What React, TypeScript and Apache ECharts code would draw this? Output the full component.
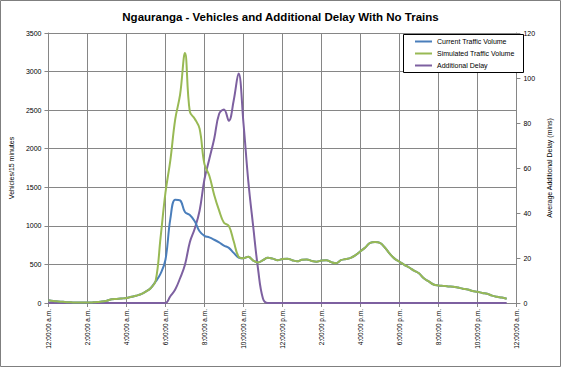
import React, { useEffect, useRef } from "react";
import * as echarts from "echarts";

// 15-minute intervals, 12:00 a.m. to 12:00 a.m. (97 category slots)
const hourLabels = ["12", "1", "2", "3", "4", "5", "6", "7", "8", "9", "10", "11"];
const quarterLabels = ["00", "15", "30", "45"];
const categories: string[] = [];
for (let h = 0; h <= 24; h++) {
  for (let q = 0; q < 4; q++) {
    if (h === 24 && q > 0) break;
    const suffix = h % 24 < 12 ? "a.m." : "p.m.";
    categories.push(`${hourLabels[h % 12]}:${quarterLabels[q]}:00 ${suffix}`);
  }
}

const currentTraffic = [
  35, 25, 20, 15, 10, 8, 6, 5, 5, 8, 12, 18, 30, 48, 52, 58, 65, 80, 95, 115,
  150, 195, 280, 380, 560, 1090, 1340, 1330, 1180, 1140, 1060, 930, 870, 850, 820, 785, 745, 715, 650, 590,
  580, 600, 550, 525, 555, 585, 575, 555, 570, 575, 555, 540, 560, 565, 545, 536, 550, 555, 530, 515,
  555, 570, 585, 620, 670, 720, 780, 790, 780, 720, 640, 575, 535, 495, 460, 420, 385, 320, 280, 240,
  228, 222, 215, 212, 200, 185, 175, 155, 145, 130, 120, 95, 80, 70, 55,
];

const simulatedTraffic = [
  35, 25, 20, 15, 10, 8, 6, 5, 5, 8, 12, 18, 30, 48, 52, 58, 65, 80, 95, 115,
  150, 195, 290, 850, 1430, 1850, 2380, 2700, 3240, 2480, 2390, 2260, 1800, 1650, 1400, 1200, 1040, 1000, 800, 600,
  580, 600, 550, 525, 555, 585, 575, 555, 570, 575, 555, 540, 560, 565, 545, 536, 550, 555, 530, 515,
  555, 570, 585, 620, 670, 720, 780, 790, 780, 720, 640, 575, 535, 495, 460, 420, 385, 320, 280, 240,
  228, 222, 215, 212, 200, 185, 175, 155, 145, 130, 120, 95, 80, 70, 55,
];

const additionalDelay = [
  0, 0, 0, 0, 0, 0, 0, 0, 0, 0, 0, 0, 0, 0, 0, 0, 0, 0, 0, 0,
  0, 0, 0, 0, 0, 3, 6, 11, 17, 27, 33, 41, 55, 64, 73, 84, 86, 81, 90, 102,
  80, 54, 34, 15, 2, 0, 0, 0, 0, 0, 0, 0, 0, 0, 0, 0, 0, 0, 0, 0,
  0, 0, 0, 0, 0, 0, 0, 0, 0, 0, 0, 0, 0, 0, 0, 0, 0, 0, 0, 0,
  0, 0, 0, 0, 0, 0, 0, 0, 0, 0, 0, 0, 0, 0, 0,
];

const leftTicks = { min: 0, max: 3500, interval: 500 };
const rightTicks = { min: 0, max: 120, interval: 20 };

const FONT = "Liberation Sans";
const GRID = "#868686";

export default function App() {
  const ref = useRef<HTMLDivElement>(null);
  useEffect(() => {
    if (!ref.current) return;
    const chart = echarts.init(ref.current, null, { renderer: "svg" });
    chart.setOption({
      animation: false,
      backgroundColor: "#ffffff",
      title: {
        text: "Ngauranga - Vehicles and Additional Delay With No Trains",
        left: "center",
        top: 6,
        textStyle: { fontFamily: FONT, fontSize: 11.5, fontWeight: "bold", color: "#000" },
      },
      grid: { left: 42, right: 37, top: 33, bottom: 64 },
      legend: {
        orient: "vertical",
        left: 403,
        top: 34,
        padding: [4, 6, 4, 12],
        itemGap: 5,
        itemWidth: 17,
        itemHeight: 2,
        icon: "rect",
        z: 10,
        textStyle: { fontFamily: FONT, fontSize: 7, color: "#000" },
        data: ["Current Traffic Volume", "Simulated Traffic Volume", "Additional Delay"],
      },
      graphic: [
        {
          type: "rect",
          z: 9,
          shape: { x: 403.5, y: 34.5, width: 120, height: 38 },
          style: { fill: "#fff", stroke: "#000", lineWidth: 1 },
        },
        {
          type: "rect",
          z: 9,
          shape: { x: 0.5, y: 0.5, width: 560, height: 366 },
          style: { fill: "none", stroke: "#7f7f7f", lineWidth: 1 },
        },
      ],
      xAxis: {
        type: "category",
        data: categories,
        boundaryGap: false,
        axisLine: { lineStyle: { color: GRID } },
        axisTick: { interval: 7, length: 4, lineStyle: { color: GRID } },
        splitLine: { show: true, interval: 7, lineStyle: { color: GRID, width: 1 } },
        axisLabel: {
          interval: 7,
          rotate: 90,
          margin: 6,
          fontFamily: FONT,
          fontSize: 6.5,
          color: "#000",
        },
      },
      yAxis: [
        {
          type: "value",
          ...leftTicks,
          name: "Vehicles/15 minutes",
          nameLocation: "middle",
          nameRotate: 90,
          nameGap: 26,
          nameTextStyle: { fontFamily: FONT, fontSize: 7, color: "#000" },
          axisLine: { show: true, lineStyle: { color: GRID } },
          axisTick: { show: true, length: 4, lineStyle: { color: GRID } },
          splitLine: { show: true, lineStyle: { color: GRID, width: 1 } },
          axisLabel: {
            margin: 7,
            fontFamily: FONT,
            fontSize: 7,
            color: "#000",
            formatter: (v: number) => String(v),
          },
        },
        {
          type: "value",
          ...rightTicks,
          position: "right",
          name: "Average Additional Delay (mins)",
          nameLocation: "middle",
          nameRotate: 90,
          nameGap: 24,
          nameTextStyle: { fontFamily: FONT, fontSize: 7, color: "#000" },
          axisLine: { show: true, lineStyle: { color: GRID } },
          axisTick: { show: true, length: 4, lineStyle: { color: GRID } },
          splitLine: { show: false },
          axisLabel: {
            margin: 7,
            fontFamily: FONT,
            fontSize: 7,
            color: "#000",
            formatter: (v: number) => String(v),
          },
        },
      ],
      series: [
        {
          name: "Current Traffic Volume",
          type: "line",
          data: currentTraffic,
          yAxisIndex: 0,
          smooth: 0.4,
          showSymbol: false,
          symbol: "none",
          z: 2,
          lineStyle: { color: "#4a7ebb", width: 2 },
          itemStyle: { color: "#4a7ebb" },
        },
        {
          name: "Simulated Traffic Volume",
          type: "line",
          data: simulatedTraffic,
          yAxisIndex: 0,
          smooth: 0.4,
          showSymbol: false,
          symbol: "none",
          z: 3,
          lineStyle: { color: "#98b954", width: 2 },
          itemStyle: { color: "#98b954" },
        },
        {
          name: "Additional Delay",
          type: "line",
          data: additionalDelay,
          yAxisIndex: 1,
          smooth: 0.4,
          showSymbol: false,
          symbol: "none",
          z: 1,
          lineStyle: { color: "#7d60a0", width: 2 },
          itemStyle: { color: "#7d60a0" },
        },
      ],
    });
    return () => chart.dispose();
  }, []);
  return (
    <div
      ref={ref}
      style={{ position: "absolute", left: 0, top: 0, width: 561, height: 367 }}
    />
  );
}
